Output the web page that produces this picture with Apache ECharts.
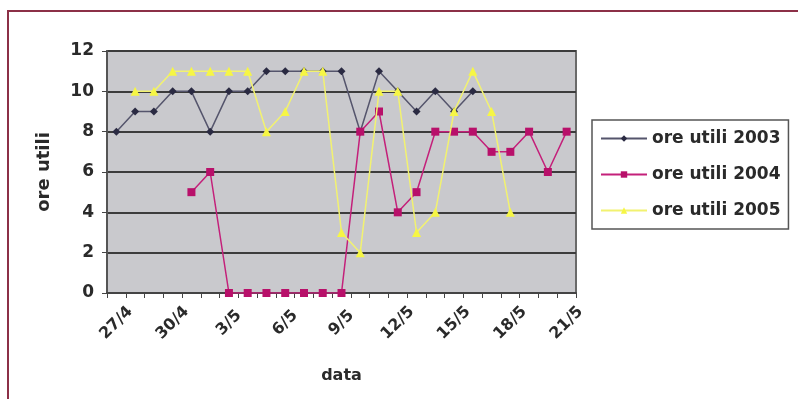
<!DOCTYPE html>
<html>
<head>
<meta charset="utf-8">
<script src="https://cdn.jsdelivr.net/npm/echarts@6/dist/echarts.min.js"></script>
<style>
  html, body { margin: 0; padding: 0; background: #fff; }
  #chart { width: 798px; height: 399px; }
</style>
</head>
<body>
<div id="chart"></div>
<script>
// Days from 27 April to 21 May
const categories = ['27/4','28/4','29/4','30/4','1/5','2/5','3/5','4/5','5/5','6/5','7/5','8/5','9/5',
  '10/5','11/5','12/5','13/5','14/5','15/5','16/5','17/5','18/5','19/5','20/5','21/5'];

// Useful hours per day
const ore2003 = [8, 9, 9, 10, 10, 8, 10, 10, 11, 11, 11, 11, 11, 8, 11, 10, 9, 10, 9, 10, null, null, null, null, null];
const ore2004 = [null, null, null, null, 5, 6, 0, 0, 0, 0, 0, 0, 0, 8, 9, 4, 5, 8, 8, 8, 7, 7, 8, 6, 8];
const ore2005 = [null, 10, 10, 11, 11, 11, 11, 11, 8, 9, 11, 11, 3, 2, 10, 10, 3, 4, 9, 11, 9, 4, null, null, null];

const yTicks = { min: 0, max: 12, step: 2 };

const FONT = 'DejaVu Sans';
const TEXT = '#2a2a2a';
const chart = echarts.init(document.getElementById('chart'), null, { renderer: 'canvas' });

chart.setOption({
  backgroundColor: '#ffffff',
  animation: false,
  textStyle: { fontFamily: FONT },
  graphic: [{
    type: 'rect',
    shape: { x: 8, y: 11, width: 820, height: 420 },
    style: { fill: 'none', stroke: '#8c3047', lineWidth: 2 },
    silent: true
  }],
  grid: {
    left: 107, top: 51, width: 469, height: 242,
    show: true, backgroundColor: '#c9c9cd', borderColor: '#6a6a6a', borderWidth: 2
  },
  legend: {
    left: 592, top: 120,
    orient: 'vertical',
    data: ['ore utili 2003', 'ore utili 2004', 'ore utili 2005'],
    itemWidth: 46, itemHeight: 8, itemGap: 19,
    padding: [10, 8, 10, 8],
    borderColor: '#555', borderWidth: 1.5,
    textStyle: { fontFamily: FONT, fontSize: 17, fontWeight: 'bold', color: TEXT }
  },
  xAxis: {
    type: 'category',
    data: categories,
    boundaryGap: true,
    name: 'data',
    nameLocation: 'middle',
    nameGap: 75,
    nameTextStyle: { fontFamily: FONT, fontSize: 16, fontWeight: 'bold', color: TEXT },
    axisLine: { lineStyle: { color: '#444', width: 2 } },
    axisTick: { show: true, interval: 0, length: 5, lineStyle: { color: '#444' } },
    axisLabel: {
      interval: 2, rotate: 45, align: 'center', verticalAlign: 'middle', margin: 30,
      fontFamily: FONT, fontSize: 16, fontWeight: 'bold', color: TEXT
    },
    splitLine: { show: false }
  },
  yAxis: {
    type: 'value',
    min: yTicks.min, max: yTicks.max, interval: yTicks.step,
    name: 'ore utili',
    nameLocation: 'middle',
    nameGap: 54,
    nameRotate: 90,
    nameTextStyle: { fontFamily: FONT, fontSize: 18, fontWeight: 'bold', color: TEXT },
    axisLine: { show: true, lineStyle: { color: '#555', width: 2 } },
    axisTick: { show: true, length: 5, lineStyle: { color: '#444' } },
    axisLabel: { fontFamily: FONT, fontSize: 17, fontWeight: 'bold', color: TEXT, margin: 13 },
    splitLine: { show: true, lineStyle: { color: '#3c3c3c', width: 2 } }
  },
  series: [
    {
      name: 'ore utili 2003', type: 'line', data: ore2003,
      symbol: 'diamond', symbolSize: 8,
      lineStyle: { color: '#55556c', width: 1.5 },
      itemStyle: { color: '#2a2a42' },
      z: 3
    },
    {
      name: 'ore utili 2004', type: 'line', data: ore2004,
      symbol: 'rect', symbolSize: 8,
      lineStyle: { color: '#c4207a', width: 1.5 },
      itemStyle: { color: '#b8106a' },
      z: 4
    },
    {
      name: 'ore utili 2005', type: 'line', data: ore2005,
      symbol: 'triangle', symbolSize: 9,
      lineStyle: { color: '#f2f270', width: 1.5 },
      itemStyle: { color: '#f6f644' },
      z: 5
    }
  ]
});
</script>
</body>
</html>
